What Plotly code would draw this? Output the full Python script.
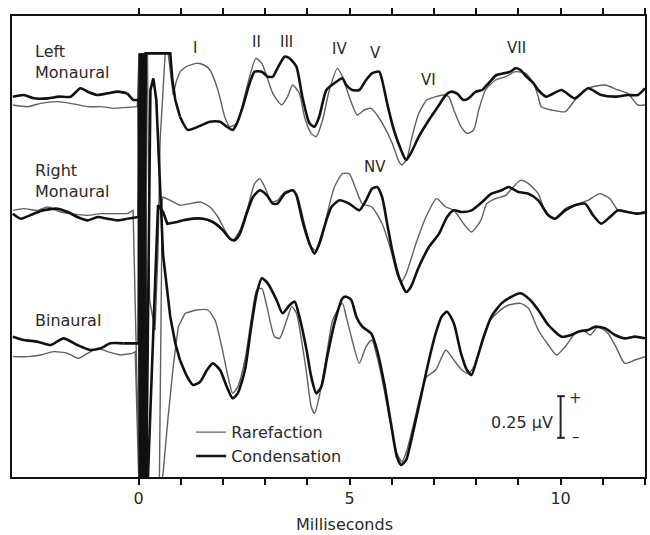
import plotly.graph_objects as go

# ---------------- data (time in ms, amplitude in microvolts relative to row baseline) -------------
# Left Monaural - Rarefaction
t_left_rare = [-2.98,-2.62,-2.32,-1.92,-1.61,-1.21,-0.90,-0.60,-0.13,-0.03,0.01,0.05,0.09,0.14,0.19,0.21,0.26,0.39,0.46,0.51,0.63,0.70,0.82,0.89,0.98,1.13,1.38,1.55,1.69,1.88,2.04,2.16,2.33,2.47,2.63,2.78,2.92,3.04,3.18,3.39,3.53,3.65,3.81,3.93,4.09,4.21,4.36,4.52,4.71,4.83,4.99,5.18,5.35,5.51,5.65,5.82,6.01,6.17,6.24,6.36,6.48,6.64,6.83,7.04,7.23,7.35,7.47,7.64,7.78,7.94,8.06,8.22,8.46,8.70,8.93,9.17,9.36,9.47,9.54,9.79,10.11,10.34,10.65,11.05,11.36,11.59,11.83,12.0]
v_left_rare = [-0.03,-0.04,-0.02,-0.01,-0.02,-0.04,-0.04,-0.05,-0.04,-0.04,0.28,-2.34,0.28,-2.34,0.28,0.28,-1.20,-1.38,-0.90,-0.24,0.28,0.28,0.03,0.11,0.17,0.20,0.22,0.21,0.18,0.06,-0.10,-0.16,-0.14,-0.02,0.14,0.25,0.22,0.14,0.04,-0.03,0.02,0.09,0.04,-0.10,-0.20,-0.22,-0.12,0.06,0.19,0.14,0.02,-0.09,-0.06,-0.05,-0.09,-0.16,-0.26,-0.37,-0.39,-0.35,-0.22,-0.08,0.0,0.02,0.03,0.02,-0.06,-0.16,-0.20,-0.18,-0.06,0.06,0.12,0.14,0.17,0.16,0.10,0.02,-0.04,-0.06,-0.07,0.0,0.07,0.09,0.06,0.04,-0.03,-0.03]

# Left Monaural - Condensation
t_left_cond = [-2.98,-2.72,-2.48,-2.15,-1.89,-1.61,-1.38,-1.21,-0.97,-0.74,-0.48,-0.27,-0.13,0.0,0.03,0.07,0.12,0.17,0.21,0.70,0.75,0.80,0.87,0.98,1.17,1.50,1.69,1.93,2.09,2.23,2.33,2.47,2.63,2.75,2.92,3.06,3.18,3.29,3.46,3.58,3.74,3.88,4.05,4.17,4.28,4.45,4.69,4.83,4.92,5.06,5.23,5.39,5.53,5.70,5.77,5.89,6.05,6.22,6.34,6.45,6.64,6.88,7.12,7.28,7.40,7.54,7.70,7.82,7.99,8.14,8.29,8.48,8.65,8.81,8.93,9.05,9.19,9.36,9.47,9.66,10.02,10.34,10.65,10.96,11.29,11.59,11.83,12.0]
v_left_cond = [0.02,0.03,0.01,0.01,0.02,0.02,0.07,0.05,0.03,0.04,0.05,0.04,0.0,0.0,-2.34,0.28,-2.34,0.28,0.28,0.28,0.28,0.12,0.0,-0.10,-0.18,-0.15,-0.13,-0.13,-0.16,-0.18,-0.14,-0.04,0.10,0.17,0.17,0.14,0.14,0.19,0.26,0.25,0.20,0.02,-0.14,-0.16,-0.10,0.06,0.11,0.13,0.09,0.06,0.06,0.12,0.16,0.17,0.12,-0.02,-0.18,-0.30,-0.36,-0.32,-0.22,-0.12,-0.03,0.03,0.05,0.04,0.0,0.01,0.05,0.06,0.10,0.15,0.16,0.17,0.19,0.18,0.14,0.10,0.06,0.02,0.06,0.01,0.07,0.03,0.02,0.03,0.03,0.07]

# Right Monaural - Rarefaction
t_right_rare = [-2.98,-2.72,-2.39,-2.15,-1.85,-1.61,-1.21,-0.90,-0.60,-0.27,-0.13,0.02,0.06,0.11,0.16,0.20,0.49,0.56,0.58,0.75,0.98,1.22,1.46,1.69,1.88,2.09,2.23,2.40,2.59,2.75,2.87,2.99,3.15,3.29,3.46,3.65,3.77,3.93,4.09,4.21,4.33,4.47,4.64,4.83,4.99,5.16,5.30,5.53,5.77,5.98,6.12,6.22,6.34,6.57,6.81,7.06,7.28,7.47,7.70,7.89,8.11,8.25,8.46,8.70,8.84,9.05,9.24,9.47,9.66,9.87,10.11,10.42,10.65,10.93,11.17,11.36,11.59,11.90,12.0]
v_right_rare = [0.01,0.02,0.01,0.03,0.0,-0.01,-0.02,-0.01,-0.01,-0.01,0.01,-1.67,0.95,-1.67,0.95,-1.67,-1.67,0.07,0.09,0.07,0.04,0.05,0.06,0.03,-0.03,-0.13,-0.17,-0.11,0.03,0.17,0.20,0.15,0.06,0.07,0.12,0.13,0.09,-0.07,-0.21,-0.23,-0.17,-0.01,0.15,0.23,0.23,0.13,0.05,0.03,-0.07,-0.23,-0.37,-0.42,-0.37,-0.19,-0.03,0.08,0.03,0.01,-0.07,-0.12,-0.05,0.05,0.08,0.10,0.14,0.19,0.17,0.11,-0.01,-0.04,0.02,0.05,0.07,0.11,0.08,0.01,0.0,-0.01,-0.01]

# Right Monaural - Condensation
t_right_cond = [-2.98,-2.79,-2.48,-2.25,-1.92,-1.68,-1.45,-1.21,-0.97,-0.74,-0.50,-0.27,-0.08,0.0,0.04,0.08,0.13,0.18,0.21,0.46,0.58,0.68,0.91,1.05,1.29,1.53,1.76,2.00,2.16,2.28,2.40,2.56,2.71,2.87,3.04,3.18,3.29,3.46,3.65,3.74,3.88,4.05,4.17,4.28,4.45,4.57,4.76,4.99,5.23,5.39,5.53,5.65,5.77,5.89,6.01,6.17,6.34,6.45,6.64,6.88,7.12,7.31,7.47,7.66,7.89,8.14,8.36,8.60,8.77,9.00,9.24,9.47,9.71,9.87,10.11,10.34,10.58,10.77,10.96,11.17,11.36,11.59,11.83,12.0]
v_right_cond = [-0.01,-0.04,-0.01,0.01,0.02,0.0,-0.03,-0.05,-0.03,-0.04,-0.05,-0.04,-0.03,-0.03,0.95,-1.67,0.95,-1.67,-1.67,0.04,0.0,-0.07,-0.06,-0.05,-0.04,-0.04,-0.06,-0.11,-0.16,-0.17,-0.13,-0.01,0.09,0.13,0.10,0.05,0.05,0.11,0.13,0.10,-0.05,-0.19,-0.25,-0.19,-0.05,0.03,0.07,0.05,0.01,0.07,0.14,0.15,0.09,-0.07,-0.23,-0.39,-0.48,-0.45,-0.33,-0.21,-0.13,-0.03,0.01,0.0,0.01,0.06,0.11,0.13,0.15,0.12,0.11,0.07,-0.02,-0.04,0.01,0.04,0.05,-0.02,-0.07,-0.03,0.01,0.0,-0.01,0.0]

# Binaural - Rarefaction
t_bin_rare = [-2.98,-2.62,-2.32,-2.01,-1.68,-1.42,-1.21,-0.97,-0.74,-0.43,-0.15,-0.08,0.01,0.05,0.10,0.15,0.19,0.51,0.58,0.70,0.82,0.94,1.10,1.38,1.64,1.81,1.97,2.12,2.23,2.35,2.52,2.68,2.80,2.92,3.04,3.22,3.34,3.51,3.63,3.74,3.86,3.98,4.09,4.17,4.28,4.45,4.60,4.83,4.92,5.06,5.23,5.39,5.53,5.65,5.82,5.98,6.12,6.24,6.36,6.52,6.71,6.83,7.04,7.28,7.47,7.66,7.82,7.99,8.14,8.34,8.53,8.77,9.05,9.24,9.47,9.71,9.90,10.11,10.34,10.54,10.70,10.89,11.12,11.31,11.52,11.76,12.0]
v_bin_rare = [-0.07,-0.07,-0.06,-0.04,-0.05,-0.08,-0.05,-0.02,-0.04,-0.06,-0.05,-0.04,-0.87,1.75,-0.87,1.75,-0.87,-0.87,-0.77,-0.43,-0.13,0.11,0.19,0.21,0.21,0.15,-0.01,-0.19,-0.29,-0.25,-0.09,0.17,0.33,0.34,0.23,0.05,0.04,0.15,0.23,0.19,0.03,-0.17,-0.37,-0.41,-0.31,-0.07,0.15,0.25,0.17,0.03,-0.11,-0.01,0.03,-0.07,-0.27,-0.49,-0.65,-0.70,-0.63,-0.47,-0.27,-0.19,-0.15,-0.03,-0.09,-0.15,-0.17,-0.11,0.03,0.15,0.20,0.24,0.25,0.22,0.09,0.0,-0.06,-0.01,0.07,0.09,0.06,0.11,0.07,-0.01,-0.11,-0.09,-0.07]

# Binaural - Condensation
t_bin_cond = [-2.98,-2.72,-2.39,-2.08,-1.78,-1.45,-1.14,-0.90,-0.67,-0.36,-0.13,0.0,0.03,0.07,0.12,0.17,0.18,0.28,0.35,0.42,0.58,0.75,0.87,0.98,1.15,1.29,1.46,1.62,1.76,1.93,2.09,2.23,2.35,2.52,2.68,2.80,2.92,3.06,3.27,3.41,3.58,3.70,3.81,3.98,4.09,4.21,4.33,4.47,4.64,4.83,4.92,5.04,5.16,5.30,5.51,5.65,5.82,5.98,6.12,6.22,6.34,6.48,6.69,6.88,7.04,7.18,7.31,7.47,7.64,7.78,7.89,8.01,8.18,8.36,8.60,8.84,9.05,9.28,9.47,9.71,10.02,10.25,10.42,10.65,10.82,11.05,11.29,11.52,11.76,12.0]
v_bin_cond = [0.05,0.03,0.02,0.0,0.04,0.0,-0.03,-0.02,0.01,0.01,0.01,0.01,1.75,-0.87,1.75,-0.87,-0.87,1.53,1.60,1.47,0.54,0.17,0.01,-0.09,-0.19,-0.24,-0.22,-0.15,-0.11,-0.15,-0.25,-0.32,-0.29,-0.15,0.13,0.31,0.40,0.37,0.27,0.19,0.24,0.26,0.17,-0.03,-0.19,-0.29,-0.25,-0.07,0.13,0.28,0.29,0.27,0.17,0.11,0.07,-0.03,-0.23,-0.47,-0.67,-0.72,-0.69,-0.55,-0.31,-0.09,0.07,0.17,0.20,0.13,-0.05,-0.15,-0.18,-0.09,0.05,0.17,0.25,0.29,0.31,0.27,0.21,0.12,0.05,0.06,0.08,0.09,0.11,0.10,0.06,0.04,0.05,0.04]

# vertical offsets of the three rows (µV)
row_offsets = {"left": 2.262, "right": 1.59, "bin": 0.792}

# stimulus-artifact window (ms), drawn with straight segments
artifact_window = (-0.2, 0.95)

# peak labels
peak_labels = ["I", "II", "III", "IV", "V", "VI", "VII", "NV"]
peak_label_t = [1.34, 2.80, 3.51, 4.76, 5.61, 6.88, 8.96, 5.61]
peak_label_y = [2.574, 2.61, 2.61, 2.568, 2.544, 2.382, 2.574, 1.86]

scale_bar_uv = 0.25

xtick_vals = list(range(0, 13))
xtick_text = ["0", "", "", "", "", "5", "", "", "", "", "10", "", ""]

# -------------------------------------------------------------------------------------------------
FONT = "DejaVu Sans"
TXT = "#2a2a2a"
THIN = dict(color="#606060", width=1.4)
THICK = dict(color="#111111", width=2.6)

series = [
    (t_left_rare, v_left_rare, "left", "Rarefaction", THIN, True),
    (t_right_rare, v_right_rare, "right", "Rarefaction", THIN, False),
    (t_bin_rare, v_bin_rare, "bin", "Rarefaction", THIN, False),
    (t_left_cond, v_left_cond, "left", "Condensation", THICK, True),
    (t_right_cond, v_right_cond, "right", "Condensation", THICK, False),
    (t_bin_cond, v_bin_cond, "bin", "Condensation", THICK, False),
]


def split_segments(t, v):
    a0, a1 = artifact_window
    i0 = max(i for i, x in enumerate(t) if x <= a0)
    i1 = min(i for i, x in enumerate(t) if x >= a1)
    return [(t[:i0 + 1], v[:i0 + 1], "spline"),
            (t[i0:i1 + 1], v[i0:i1 + 1], "linear"),
            (t[i1:], v[i1:], "spline")]


fig = go.Figure()
for t, v, row, name, style, show in series:
    assert len(t) == len(v), (row, name, len(t), len(v))
    off = row_offsets[row]
    for k, (ts, vs, shape) in enumerate(split_segments(t, v)):
        line = dict(color=style["color"], width=style["width"], shape=shape)
        if shape == "spline":
            line["smoothing"] = 0.6
        fig.add_trace(go.Scatter(
            x=ts, y=[off + a for a in vs], mode="lines", name=name, legendgroup=name,
            line=line, showlegend=(show and k == 2), hoverinfo="skip"))

annotations = []
for lab, tx, ty in zip(peak_labels, peak_label_t, peak_label_y):
    annotations.append(dict(x=tx, y=ty, xref="x", yref="y", text=lab, showarrow=False,
                            font=dict(family=FONT, size=15, color=TXT),
                            xanchor="center", yanchor="middle"))

for txt, y in [("Left<br>Monaural", 2.493), ("Right<br>Monaural", 1.779), ("Binaural", 0.942)]:
    annotations.append(dict(x=-2.50, y=y, xref="x", yref="y", text=txt, showarrow=False,
                            align="left", xanchor="left", yanchor="middle",
                            font=dict(family=FONT, size=16, color=TXT)))

# scale bar
sb_x = 10.0
sb_y0 = 0.235
sb_y1 = sb_y0 + scale_bar_uv
shapes = [
    dict(type="line", xref="x", yref="y", x0=sb_x, x1=sb_x, y0=sb_y0, y1=sb_y1,
         line=dict(color="#222", width=2)),
    dict(type="line", xref="x", yref="y", x0=sb_x - 0.08, x1=sb_x + 0.1, y0=sb_y0, y1=sb_y0,
         line=dict(color="#222", width=2)),
    dict(type="line", xref="x", yref="y", x0=sb_x - 0.08, x1=sb_x + 0.1, y0=sb_y1, y1=sb_y1,
         line=dict(color="#222", width=2)),
]
annotations += [
    dict(x=9.86, y=(sb_y0 + sb_y1) / 2 - 0.03, xref="x", yref="y", text="0.25 µV", showarrow=False,
         xanchor="right", yanchor="middle", font=dict(family=FONT, size=16, color=TXT)),
    dict(x=10.36, y=sb_y1 - 0.01, xref="x", yref="y", text="+", showarrow=False,
         xanchor="center", yanchor="middle", font=dict(family=FONT, size=15, color=TXT)),
    dict(x=10.36, y=sb_y0 + 0.005, xref="x", yref="y", text="–", showarrow=False,
         xanchor="center", yanchor="middle", font=dict(family=FONT, size=15, color=TXT)),
    dict(x=0.526, y=-0.104, xref="paper", yref="paper", text="Milliseconds", showarrow=False,
         xanchor="center", yanchor="middle", font=dict(family=FONT, size=16, color=TXT)),
]

fig.update_layout(
    width=650, height=535,
    margin=dict(l=12, r=3, t=16, b=58),
    paper_bgcolor="white", plot_bgcolor="white",
    font=dict(family=FONT, size=16, color=TXT),
    showlegend=True,
    legend=dict(x=0.283, y=0.134, xanchor="left", yanchor="top", bgcolor="rgba(0,0,0,0)",
                font=dict(family=FONT, size=16, color=TXT), itemwidth=30, tracegroupgap=0),
    annotations=annotations, shapes=shapes,
    xaxis=dict(range=[-3, 12], tickvals=xtick_vals, ticktext=xtick_text, ticks="outside",
               ticklen=6, tickwidth=1.5, tickcolor="#111", showline=True, linewidth=2,
               linecolor="#111", mirror="ticks", showgrid=False, zeroline=False,
               tickfont=dict(family=FONT, size=16, color=TXT)),
    yaxis=dict(range=[0, 2.766], showline=True, linewidth=2, linecolor="#111", mirror=True,
               ticks="", showticklabels=False, showgrid=False, zeroline=False),
)

fig.write_html("out.html")
